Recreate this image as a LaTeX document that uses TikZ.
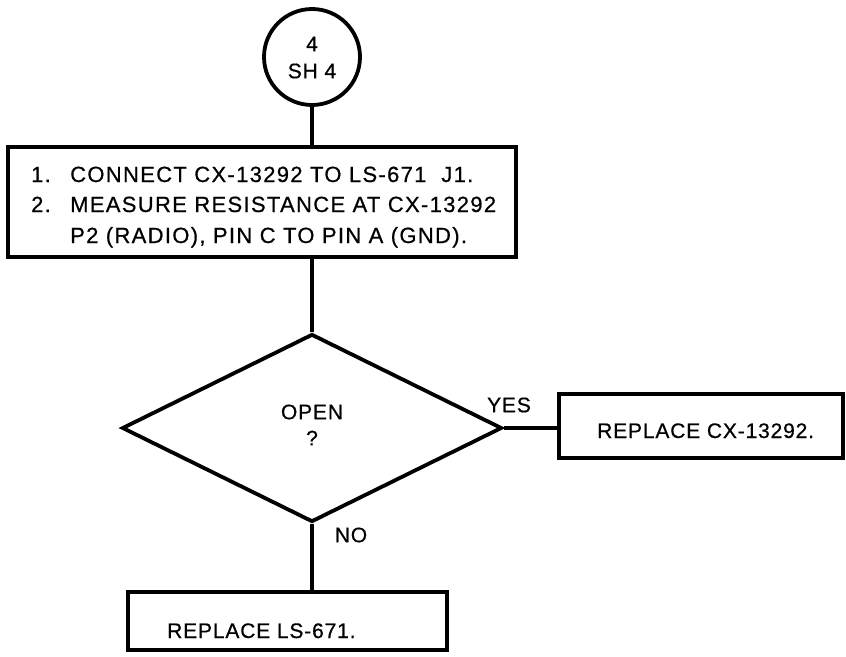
\documentclass[tikz,border=0pt]{standalone}
\usepackage{fontspec}
\setmainfont{Liberation Sans}[LetterSpace=4,FakeBold=0.6]
\newfontfamily\boxfont{Liberation Sans}[LetterSpace=6,FakeBold=0.6]
\usetikzlibrary{shapes.geometric}
\begin{document}
\begin{tikzpicture}[x=1pt,y=-1pt,
  box/.style={draw,line width=3.2pt,rectangle,inner sep=0pt},
  conn/.style={line width=4.5pt},
  lbl/.style={font=\fontsize{21}{24}\selectfont,inner sep=0pt},
  blbl/.style={font=\boxfont\fontsize{22}{24}\selectfont,inner sep=0pt,anchor=base west}]
\useasboundingbox (0,0) rectangle (846,656);
\node[draw,circle,line width=3.8pt,minimum size=96pt,inner sep=0pt] (c) at (312,57) {};
\node[lbl] (c1) at (312,44) {4};
\node[lbl] (c2) at (312,71) {SH 4};
\node[box,minimum width=508pt,minimum height=110pt] (b1) at (262,202) {};
\node[blbl] (n1) at (31,182) {1.};
\node[blbl] (t1) at (70,182) {CONNECT CX-13292 TO LS-671\ \ J1.};
\node[blbl] (n2) at (31,212) {2.};
\node[blbl] (t2) at (70,212) {MEASURE RESISTANCE AT CX-13292};
\node[blbl] (t3) at (70,243) {P2 (RADIO), PIN C TO PIN A (GND).};
\node[draw,diamond,line width=3.8pt,minimum width=380pt,minimum height=188pt,inner sep=0pt] (d) at (312,428) {};
\node[lbl] (o1) at (312,412) {OPEN};
\node[lbl] (o2) at (312,438) {?};
\node[lbl] (yes) at (509,405) {YES};
\node[lbl] (no) at (351,535) {NO};
\node[box,minimum width=284pt,minimum height=64pt] (b2) at (701,426) {};
\node[lbl,anchor=base west] (t4) at (597,438) {REPLACE CX-13292.};
\node[box,minimum width=319pt,minimum height=58pt] (b3) at (287.5,621) {};
\node[lbl,anchor=base west] (t5) at (167,638) {REPLACE LS-671.};
\draw[conn] (c.south) -- (c.south |- b1.north);
\draw[conn] (d.north |- b1.south) -- (d.north);
\draw[conn] (d.east) -- (d.east -| b2.west);
\draw[conn] (d.south) -- (d.south |- b3.north);
\end{tikzpicture}
\end{document}
